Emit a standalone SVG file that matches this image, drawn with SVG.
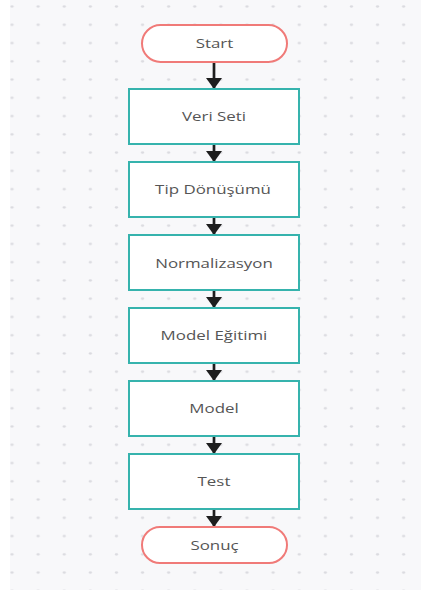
<svg xmlns="http://www.w3.org/2000/svg" width="421" height="590" viewBox="0 0 421 590">
  <defs>
    <pattern id="dots" patternUnits="userSpaceOnUse" x="-1.05" y="-2.56" width="26.11" height="18.26">
      <ellipse cx="13.05" cy="9.13" rx="1.8" ry="1.1" fill="#dadadf"/>
    </pattern>
    <marker id="arrow" markerUnits="userSpaceOnUse" markerWidth="11" markerHeight="16" refX="11" refY="8" orient="auto">
      <path d="M0,0 L11,8 L0,16 Z" fill="#1e1e1e"/>
    </marker>
    <style>
      .term { fill: #ffffff; stroke: #f07a78; stroke-width: 2; }
      .proc { fill: #ffffff; stroke: #36b3ad; stroke-width: 2; }
      .lbl { font-family: "Open Sans", "Liberation Sans", sans-serif; font-size: 13px; fill: #555555; text-anchor: middle; }
      .conn { stroke: #1e1e1e; stroke-width: 2.7; fill: none; marker-end: url(#arrow); }
    </style>
  </defs>

  <rect x="0" y="0" width="421" height="590" fill="#ffffff"/>
  <rect x="10" y="0" width="411" height="590" fill="#f8f8fa"/>
  <rect x="10" y="0" width="411" height="590" fill="url(#dots)"/>

  <g id="connectors">
    <line class="conn" x1="214" y1="62" x2="214" y2="89"/>
    <line class="conn" x1="214" y1="144" x2="214" y2="162"/>
    <line class="conn" x1="214" y1="217" x2="214" y2="235"/>
    <line class="conn" x1="214" y1="290" x2="214" y2="308"/>
    <line class="conn" x1="214" y1="363" x2="214" y2="381"/>
    <line class="conn" x1="214" y1="436" x2="214" y2="454"/>
    <line class="conn" x1="214" y1="509" x2="214" y2="527"/>
  </g>

  <g id="start">
    <rect class="term" x="142" y="25" width="145" height="37" rx="18.5" ry="18.5"/>
    <text class="lbl" transform="translate(214.5 48) scale(1.3 1)">Start</text>
  </g>
  <g id="veri-seti">
    <rect class="proc" x="129" y="89" width="170" height="55"/>
    <text class="lbl" transform="translate(214 121) scale(1.3 1)">Veri Seti</text>
  </g>
  <g id="tip-donusumu">
    <rect class="proc" x="129" y="162" width="170" height="55"/>
    <text class="lbl" transform="translate(213 194) scale(1.3 1)">Tip Dönüşümü</text>
  </g>
  <g id="normalizasyon">
    <rect class="proc" x="129" y="235" width="170" height="55"/>
    <text class="lbl" transform="translate(214 267.5) scale(1.3 1)">Normalizasyon</text>
  </g>
  <g id="model-egitimi">
    <rect class="proc" x="129" y="308" width="170" height="55"/>
    <text class="lbl" transform="translate(214 340) scale(1.3 1)">Model Eğitimi</text>
  </g>
  <g id="model">
    <rect class="proc" x="129" y="381" width="170" height="55"/>
    <text class="lbl" transform="translate(214 413) scale(1.3 1)">Model</text>
  </g>
  <g id="test">
    <rect class="proc" x="129" y="454" width="170" height="55"/>
    <text class="lbl" transform="translate(214 486) scale(1.3 1)">Test</text>
  </g>
  <g id="sonuc">
    <rect class="term" x="142" y="527" width="145" height="36" rx="18" ry="18"/>
    <text class="lbl" transform="translate(214.5 549.5) scale(1.3 1)">Sonuç</text>
  </g>
</svg>
